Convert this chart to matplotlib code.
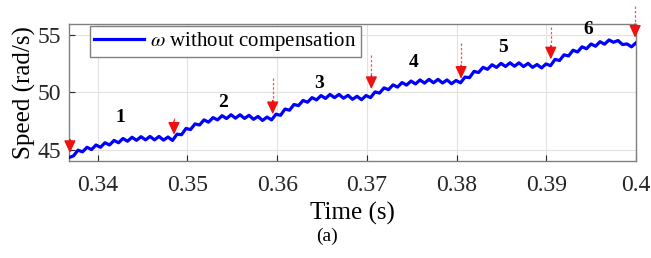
import numpy as np
import matplotlib.pyplot as plt

## speed samples (evenly spaced in time)
t_start, t_end = 0.3368, 0.4
speed = [
    44.30, 44.45, 44.95, 44.80, 45.20, 45.00, 45.40, 45.20, 45.60, 45.40,
    45.80, 45.60, 45.97, 45.73, 46.08, 45.81, 46.13, 45.85, 46.15, 45.85,
    46.15, 45.83, 46.10, 45.80, 46.35, 46.30, 46.85, 46.75, 47.25, 47.15,
    47.60, 47.40, 47.80, 47.60, 47.97, 47.72, 48.05, 47.75, 48.05, 47.73,
    48.00, 47.65, 47.90, 47.55, 47.85, 47.60, 48.10, 48.00, 48.55, 48.45,
    48.95, 48.85, 49.30, 49.15, 49.55, 49.35, 49.73, 49.48, 49.83, 49.55,
    49.83, 49.50, 49.75, 49.40, 49.67, 49.37, 49.73, 49.55, 50.05, 49.95,
    50.40, 50.25, 50.67, 50.47, 50.87, 50.65, 51.00, 50.75, 51.10, 50.82,
    51.15, 50.85, 51.15, 50.83, 51.10, 50.77, 51.05, 50.85, 51.35, 51.30,
    51.85, 51.75, 52.20, 52.03, 52.43, 52.20, 52.55, 52.28, 52.60, 52.30,
    52.60, 52.27, 52.55, 52.20, 52.45, 52.15, 52.50, 52.35, 52.90, 52.80,
    53.30, 53.20, 53.70, 53.55, 54.00, 53.83, 54.25, 54.05, 54.45, 54.23,
    54.60, 54.40, 54.55, 54.20, 54.25, 54.00, 54.35,
]
time = np.linspace(t_start, t_end, len(speed))

## arrows marking the step instants (x, dashed tail top, head tip)
arrow_t = [0.3369, 0.3485, 0.3595, 0.3705, 0.3805, 0.3905, 0.3999]
arrow_top = [45.9, 47.8, 51.3, 53.3, 54.3, 55.7, 57.6]
arrow_tip = [44.7, 46.3, 48.1, 50.3, 51.2, 52.9, 54.8]

## segment numbers
seg_labels = ['1', '2', '3', '4', '5', '6']
seg_t = [0.3425, 0.3540, 0.3647, 0.3752, 0.3852, 0.3947]
seg_y = [47.8, 49.1, 50.8, 52.6, 53.9, 55.5]

plt.rcParams['font.family'] = ['Liberation Serif', 'DejaVu Serif']
plt.rcParams['mathtext.fontset'] = 'stix'

fig = plt.figure(figsize=(6.51, 2.58), dpi=100)
ax = fig.add_axes([0.106, 0.376, 0.871, 0.531])

ax.plot(time, speed, color='#0000ff', lw=2.3, label=r'$\omega$ without compensation', zorder=3)

for x, top, tip in zip(arrow_t, arrow_top, arrow_tip):
    ax.plot([x, x], [top, tip + 0.9], ls=(0, (2, 1.5)), color='#ff5050', lw=0.9, clip_on=False, zorder=4)
    ax.annotate('', xy=(x, tip), xytext=(x, tip + 1.2),
                arrowprops=dict(arrowstyle='-|>,head_length=0.75,head_width=0.35',
                                color='#ee1111', lw=1.0, shrinkA=0, shrinkB=0),
                annotation_clip=False, zorder=5)

for lab, x, y in zip(seg_labels, seg_t, seg_y):
    ax.text(x, y, lab, fontsize=14, fontweight='bold', ha='center', va='center')

ax.set_xlim(t_start, t_end)
ax.set_ylim(44, 56)
ax.set_xticks([0.34, 0.35, 0.36, 0.37, 0.38, 0.39, 0.4])
ax.set_xticklabels(['0.34', '0.35', '0.36', '0.37', '0.38', '0.39', '0.4'])
ax.set_yticks([45, 50, 55])
ax.grid(True, color='#e2e2e2', lw=0.8)
ax.tick_params(direction='in', labelsize=17, colors='#262626', length=4)
ax.tick_params(axis='x', pad=10)
ax.tick_params(axis='y', pad=6)
for s in ax.spines.values():
    s.set_color('#808080')
    s.set_linewidth(1.0)

ax.set_xlabel('Time (s)', fontsize=18, labelpad=4)
ax.set_ylabel('Speed (rad/s)', fontsize=18, labelpad=1)

leg = ax.legend(loc='upper left', fontsize=15, handlelength=2.4, handletextpad=0.3,
                borderpad=0.2, fancybox=False, framealpha=1, edgecolor='#808080',
                bbox_to_anchor=(0.037, 0.985), borderaxespad=0)
leg.get_frame().set_linewidth(1.0)

fig.text(0.502, 0.065, '(a)', fontsize=14, ha='center')

fig.savefig('out.png', dpi=100)
